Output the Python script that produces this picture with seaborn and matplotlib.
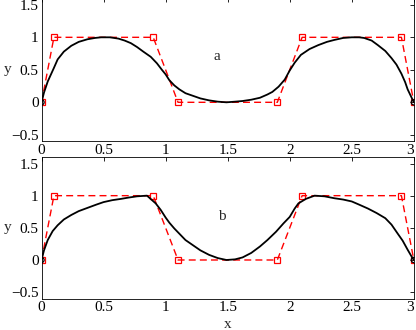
import numpy as np
import pandas as pd
import matplotlib
matplotlib.use("Agg")
import matplotlib.pyplot as plt
import matplotlib.transforms as mtransforms
import seaborn as sns

# control polygon (same for both panels)
ctrl_x = [0, 0.1, 0.9, 1.1, 1.9, 2.1, 2.9, 3.0]
ctrl_y = [0, 1, 1, 0, 0, 1, 1, 0]

# curve a
a_x = [0, 0.02, 0.05, 0.1, 0.13, 0.18, 0.24, 0.3, 0.37, 0.43, 0.48, 0.55, 0.62, 0.67, 0.72,
       0.77, 0.82, 0.88, 0.93, 0.97, 1.0, 1.03, 1.07, 1.11, 1.16, 1.22, 1.28, 1.35, 1.42,
       1.49, 1.56, 1.62, 1.69, 1.76, 1.82, 1.86, 1.91, 1.96, 2.0, 2.04, 2.09, 2.16, 2.23,
       2.3, 2.36, 2.43, 2.5, 2.56, 2.6, 2.66, 2.71, 2.77, 2.82, 2.86, 2.9, 2.93, 2.95, 2.98, 3.0]
a_y = [0, 0.15, 0.32, 0.53, 0.66, 0.78, 0.87, 0.93, 0.97, 0.99, 1.0, 1.0, 0.98, 0.95, 0.91,
       0.85, 0.78, 0.70, 0.60, 0.50, 0.43, 0.34, 0.26, 0.20, 0.14, 0.10, 0.06, 0.03, 0.01,
       0.0, 0.01, 0.02, 0.04, 0.07, 0.12, 0.16, 0.24, 0.35, 0.49, 0.61, 0.73, 0.82, 0.88,
       0.93, 0.96, 0.99, 1.0, 1.0, 0.99, 0.95, 0.88, 0.79, 0.68, 0.58, 0.44, 0.31, 0.20, 0.08, 0]

# curve b
b_x = [0, 0.02, 0.05, 0.09, 0.13, 0.18, 0.24, 0.3, 0.37, 0.44, 0.5, 0.57, 0.64, 0.7, 0.77,
       0.85, 0.92, 0.96, 1.0, 1.03, 1.07, 1.11, 1.16, 1.22, 1.28, 1.35, 1.42, 1.49, 1.56,
       1.62, 1.69, 1.76, 1.82, 1.89, 1.95, 2.0, 2.04, 2.07, 2.13, 2.2, 2.28, 2.36, 2.43,
       2.5, 2.56, 2.63, 2.7, 2.77, 2.82, 2.87, 2.91, 2.95, 2.98, 3.0]
b_y = [0, 0.15, 0.31, 0.45, 0.54, 0.63, 0.70, 0.76, 0.81, 0.86, 0.90, 0.93, 0.95, 0.97, 0.99,
       1.0, 0.88, 0.78, 0.66, 0.58, 0.49, 0.41, 0.31, 0.23, 0.15, 0.08, 0.03, 0.0, 0.01,
       0.04, 0.11, 0.21, 0.31, 0.44, 0.57, 0.67, 0.80, 0.88, 0.95, 1.0, 0.99, 0.96, 0.94,
       0.91, 0.86, 0.80, 0.73, 0.65, 0.55, 0.41, 0.30, 0.16, 0.06, 0]

labels = ["a", "b"]
curves = [(a_x, a_y), (b_x, b_y)]
label_pos = [(1.41, 0.71), (1.45, 0.68)]

x_ticks = [0, 0.5, 1, 1.5, 2, 2.5, 3]
y_ticks = [-0.5, 0, 0.5, 1, 1.5]

sns.set_theme(style="white")
plt.rcParams["font.family"] = ["Liberation Serif", "DejaVu Serif"]
plt.rcParams["axes.unicode_minus"] = True

fig = plt.figure(figsize=(4.16, 3.30), dpi=100)
positions = [[0.0998, 0.5718, 0.895, 0.4333], [0.0998, 0.0952, 0.895, 0.4288]]

ctrl_df = pd.DataFrame({"x": ctrl_x, "y": ctrl_y})
for i, pos in enumerate(positions):
    ax = fig.add_axes(pos)
    cx, cy = curves[i]
    cdf = pd.DataFrame({"x": cx, "y": cy})
    sns.lineplot(data=ctrl_df, x="x", y="y", sort=False, estimator=None, ax=ax,
                 color="red", linestyle=(0, (5, 3)), linewidth=1.0,
                 marker="s", markersize=4.5, markerfacecolor="none",
                 markeredgecolor="red", markeredgewidth=0.9)
    sns.lineplot(data=cdf, x="x", y="y", sort=False, estimator=None, ax=ax,
                 color="black", linewidth=1.3)
    ends = pd.DataFrame({"x": [cx[0], cx[-1]], "y": [cy[0], cy[-1]]})
    sns.scatterplot(data=ends, x="x", y="y", ax=ax, marker="o", s=14,
                    facecolor="none", edgecolor="black", linewidth=0.9, zorder=5)
    ax.set_xlim(0, 3)
    ax.set_ylim(-0.6, 1.6)
    ax.set_xticks(x_ticks)
    ax.set_xticklabels(["0", "0.5", "1", "1.5", "2", "2.5", "3"])
    ax.set_yticks(y_ticks)
    ax.set_yticklabels(["\u22120.5", "0", "0.5", "1", "1.5"])
    ax.tick_params(direction="in", length=3, width=0.6, top=True, right=True,
                   labelsize=11, pad=2, colors="black")
    last = ax.get_xticklabels()[-1]
    last.set_transform(last.get_transform() +
                       mtransforms.ScaledTranslation(-4 / 100, 0, fig.dpi_scale_trans))
    for sp in ax.spines.values():
        sp.set_color("black")
        sp.set_linewidth(0.6)
    ax.set_ylabel("y", rotation=0, fontsize=11, labelpad=4, va="center")
    ax.yaxis.set_label_coords(-0.09, 0.5)
    ax.set_xlabel("x" if i == 1 else "", fontsize=11)
    ax.text(label_pos[i][0], label_pos[i][1], labels[i], fontsize=11,
            ha="center", va="center")
    if i == 1:
        ax.xaxis.set_label_coords(0.5, -0.135)

fig.savefig("out.png", dpi=100)
